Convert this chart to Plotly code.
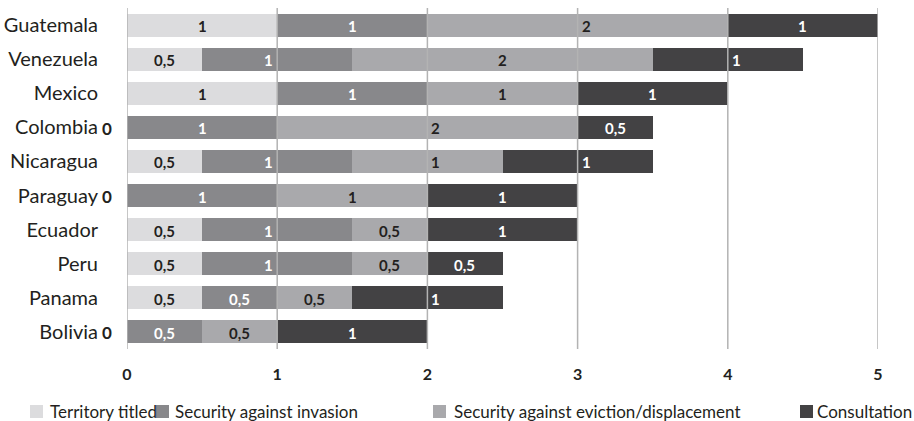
import plotly.graph_objects as go

countries = ["Guatemala", "Venezuela", "Mexico", "Colombia", "Nicaragua",
             "Paraguay", "Ecuador", "Peru", "Panama", "Bolivia"]
territory_titled = [1, 0.5, 1, 0, 0.5, 0, 0.5, 0.5, 0.5, 0]
security_invasion = [1, 1, 1, 1, 1, 1, 1, 1, 0.5, 0.5]
security_eviction = [2, 2, 1, 2, 1, 1, 0.5, 0.5, 0.5, 0.5]
consultation = [1, 1, 1, 0.5, 1, 1, 1, 0.5, 1, 1]
x_ticks = [0, 1, 2, 3, 4, 5]

series = [
    ("Territory titled", territory_titled, "#dcdcde", "#231f20"),
    ("Security against invasion", security_invasion, "#88888b", "#ffffff"),
    ("Security against eviction/displacement", security_eviction, "#a9a9ac", "#231f20"),
    ("Consultation", consultation, "#434244", "#ffffff"),
]

W, H = 914, 421
ML, MR, MT, MB = 127, 36, 8, 72
PW, PH = W - ML - MR, H - MT - MB

def px2paper(px, py):
    return (px - ML) / PW, (H - MB - py) / PH

def fmt(v):
    return ("%g" % v).replace(".", ",")

FONT = "Lato, 'Open Sans', sans-serif"

fig = go.Figure()
annotations = []
cum = [0.0] * len(countries)
for si, (name, vals, color, tcolor) in enumerate(series):
    fig.add_trace(go.Bar(
        y=countries, x=vals, name=name, orientation="h",
        marker=dict(color=color, line=dict(width=0)),
        hoverinfo="skip", showlegend=False,
    ))
    for i, v in enumerate(vals):
        if v > 0:
            centre = cum[i] + v / 2
            on_grid = abs(centre - round(centre)) < 1e-9
            if on_grid and si == 1:
                xa, xs = "right", -2
            elif on_grid:
                xa, xs = "left", 2
            else:
                xa, xs = "center", 0
            annotations.append(dict(
                x=centre, y=countries[i], xref="x", yref="y", text=fmt(v),
                showarrow=False, xanchor=xa, xshift=xs, yshift=-1,
                font=dict(family=FONT, size=15, color=tcolor, weight="bold"),
            ))
        elif si == 0:
            # zero value shown outside the bar, left of the axis
            annotations.append(dict(
                x=cum[i], y=countries[i], xref="x", yref="y", text=fmt(v),
                showarrow=False, xanchor="right", xshift=-13, yshift=-1,
                font=dict(family=FONT, size=17, color="#231f20", weight="bold"),
            ))
        cum[i] += v

# legend (drawn in layout space so it can sit exactly where the original's does)
legend_square_px = [30, 156, 433, 800]
legend_text_px = [48, 173, 452, 815]
legend_y_px = 411
shapes = []
for (name, vals, color, tcolor), sx, tx in zip(series, legend_square_px, legend_text_px):
    x0, y0 = px2paper(sx, legend_y_px + 7)
    x1, y1 = px2paper(sx + 13, legend_y_px - 6)
    shapes.append(dict(type="rect", xref="paper", yref="paper",
                       x0=x0, x1=x1, y0=y0, y1=y1,
                       fillcolor=color, line=dict(width=0)))
    axp, ayp = px2paper(tx, legend_y_px)
    annotations.append(dict(x=axp, y=ayp, xref="paper", yref="paper", text=name,
                            showarrow=False, xanchor="left", yanchor="middle",
                            font=dict(family=FONT, size=17, color="#231f20")))

shapes += [dict(type="line", xref="x", yref="paper", x0=t, x1=t, y0=0, y1=1,
                line=dict(color="#b3b3b3", width=1.5), layer="above")
           for t in x_ticks]

fig.update_layout(
    width=W, height=H,
    margin=dict(l=ML, r=MR, t=MT, b=MB, pad=0),
    barmode="stack", bargap=0.325,
    plot_bgcolor="white", paper_bgcolor="white",
    showlegend=False,
    xaxis=dict(range=[0, 5], tickvals=x_ticks, showgrid=False, zeroline=False,
               showline=False, ticks="", ticklabelstandoff=14, automargin=False,
               tickfont=dict(family=FONT, size=16, color="#231f20", weight="bold"),
               fixedrange=True),
    yaxis=dict(categoryorder="array", categoryarray=countries, autorange="reversed",
               showgrid=False, zeroline=False, showline=False, ticks="",
               ticklabelstandoff=28, automargin=False,
               tickfont=dict(family=FONT, size=20, color="#231f20"),
               fixedrange=True),
    shapes=shapes,
    annotations=annotations,
)

fig.write_html("out.html")
